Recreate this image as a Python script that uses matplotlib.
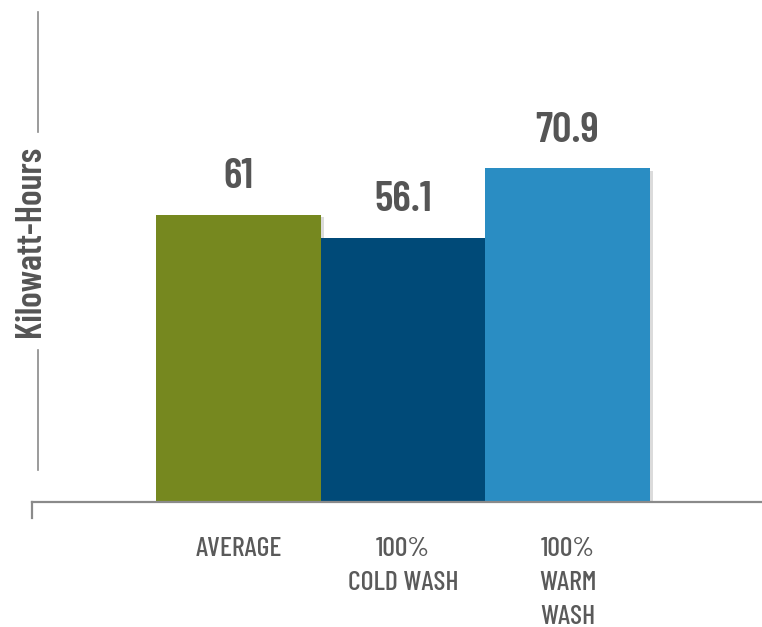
import matplotlib.pyplot as plt
import matplotlib.patheffects as pe
from matplotlib.lines import Line2D

# datos
categorias = ['AVERAGE', '100%\nCOLD WASH', '100%\nWARM\nWASH']
valores = [61, 56.1, 70.9]
etiquetas = ['61', '56.1', '70.9']
colores = ['#76881f', '#004a78', '#2a8dc3']

plt.rcParams['font.family'] = ['Barlow Condensed', 'DejaVu Sans']
gris = '#555555'

W, H = 762, 627
fig = plt.figure(figsize=(W / 100, H / 100), dpi=100)

# ejes colocados en pixeles: izquierda 32, base 502
ax = fig.add_axes([32 / W, 1 - 502 / H, 1 - 32 / W, 502 / H])
x = list(range(len(valores)))
barras = ax.bar(x, valores, width=1.0, color=colores, zorder=2)
for b in barras:
    b.set_path_effects([pe.SimplePatchShadow(offset=(2, -2), shadow_rgbFace='#999999', alpha=0.35),
                        pe.Normal()])

ax.set_xlim(-1.255, 3.182)
ax.set_ylim(0, 502 / 4.71)
for s in ax.spines.values():
    s.set_visible(False)
ax.set_xticks([])
ax.set_yticks([])

# valores encima de cada barra
for xi, v, t in zip(x, valores, etiquetas):
    ax.annotate(t, (xi, v), xytext=(0, 19), textcoords='offset points',
                ha='center', va='baseline', fontsize=31, fontweight=600, color=gris)

# etiquetas de categorias
for xi, c in zip(x, categorias):
    ax.annotate(c, (xi, 0), xytext=(0, -25.5), textcoords='offset points',
                ha='center', va='top', fontsize=20, fontweight=500, color='#5a5a5a',
                linespacing=1.51, annotation_clip=False)

# eje x y pequeña marca
gl = '#8a8a8a'
fig.add_artist(Line2D([32 / W, 1], [1 - 502 / H] * 2, color=gl, lw=1.6))
fig.add_artist(Line2D([32 / W] * 2, [1 - 502 / H, 1 - 518 / H], color=gl, lw=1.6))

# eje y con hueco para el titulo
fig.add_artist(Line2D([38 / W] * 2, [1 - 12 / H, 1 - 132 / H], color=gl, lw=1.2))
fig.add_artist(Line2D([38 / W] * 2, [1 - 350 / H, 1 - 470 / H], color=gl, lw=1.2))
fig.text(31 / W, 1 - 241 / H, 'Kilowatt-Hours', rotation=90, ha='center', va='center',
         fontsize=26, fontweight=600, color=gris)

fig.savefig('out.png', dpi=100)
